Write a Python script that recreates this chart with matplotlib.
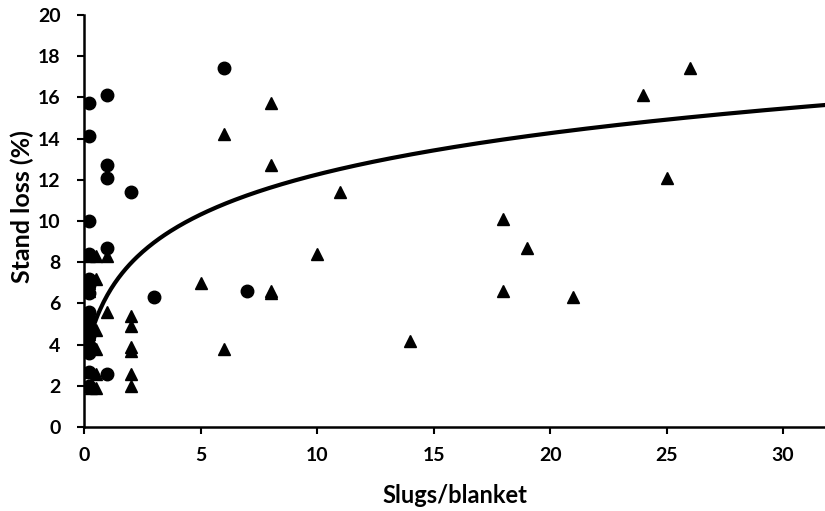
import numpy as np
import matplotlib
matplotlib.use("Agg")
import matplotlib.pyplot as plt

# ---- data ----
circle_x = [0.2, 0.2, 0.2, 0.2, 0.2, 0.2, 0.2, 0.2, 0.2, 0.2, 0.2, 0.2, 0.2, 0.2, 0.2,
            1, 1, 1, 1, 1, 2, 3, 6, 7]
circle_y = [15.7, 14.1, 10.0, 8.4, 7.2, 6.9, 6.5, 5.6, 5.3, 4.8, 4.4, 4.0, 3.6, 2.7, 2.0,
            16.1, 12.7, 12.1, 8.7, 2.6, 11.4, 6.3, 17.4, 6.6]

tri_x = [0.2, 0.5, 0.2, 0.5, 0.2, 0.5, 0.2, 0.2, 0.5, 0.2, 0.2, 0.5, 0.2, 0.5, 0.3,
         1, 1, 2, 2, 2, 2, 2, 2,
         5, 6, 6, 8, 8, 8, 8, 10, 11, 14, 18, 18, 19, 21, 24, 25, 26]
tri_y = [8.3, 8.3, 7.0, 7.2, 6.6, 4.7, 4.5, 4.2, 3.8, 3.9, 2.7, 2.6, 2.0, 1.9, 1.9,
         8.3, 5.6, 5.4, 4.9, 3.9, 3.7, 2.6, 2.0,
         7.0, 14.2, 3.8, 15.7, 12.7, 6.6, 6.5, 8.4, 11.4, 4.2, 10.1, 6.6, 8.7, 6.3, 16.1, 12.1, 17.4]

# trend curve  y = a*ln(x + c) + b  (coefficients)
trend_a = 3.0
trend_b = 5.2
trend_c = 0.5
trend_start = 0.2
trend_end = 32

x_ticks = [0, 5, 10, 15, 20, 25, 30]
y_ticks = [0, 2, 4, 6, 8, 10, 12, 14, 16, 18, 20]

plt.rcParams['font.family'] = ['Lato', 'DejaVu Sans']

fig = plt.figure(figsize=(8.25, 5.11), dpi=100)
ax = fig.add_axes([0.102, 0.164, 0.898, 0.807])

ax.plot(circle_x, circle_y, linestyle='none', marker='o', markersize=9,
        color='black', zorder=3)
ax.plot(tri_x, tri_y, linestyle='none', marker='^', markersize=9,
        color='black', zorder=3)

tx = np.linspace(trend_start, trend_end, 400)
ty = trend_a * np.log(tx + trend_c) + trend_b
ax.plot(tx, ty, color='black', linewidth=3, zorder=2, solid_capstyle='butt')

ax.set_xlim(0, 31.8)
ax.set_ylim(0, 20)
ax.set_xticks(x_ticks)
ax.set_yticks(y_ticks)

for s in ['top', 'right']:
    ax.spines[s].set_visible(False)
for s in ['left', 'bottom']:
    ax.spines[s].set_linewidth(1.8)
    ax.spines[s].set_color('black')

ax.tick_params(axis='both', direction='out', length=5, width=1.5, colors='black',
               labelsize=14)
ax.tick_params(axis='y', pad=12)
ax.tick_params(axis='x', pad=9)
for lab in ax.get_xticklabels() + ax.get_yticklabels():
    lab.set_fontweight('bold')

ax.set_xlabel('Slugs/blanket', fontsize=17, fontweight='bold', labelpad=15)
ax.set_ylabel('Stand loss (%)', fontsize=18, fontweight='bold')
ax.yaxis.set_label_coords(-0.068, 0.535)

fig.savefig('out.png', dpi=100)
